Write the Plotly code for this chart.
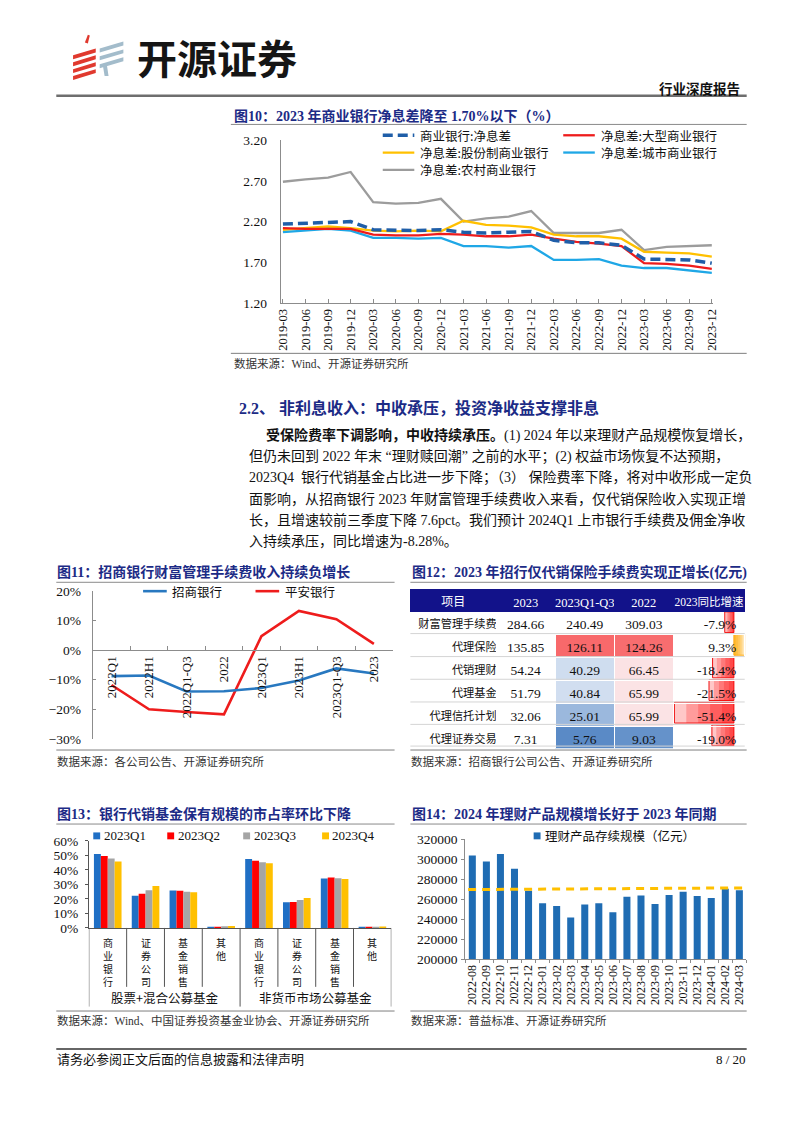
import statistics
import plotly.graph_objects as go

W, H = 802, 1133
def X(px): return px / W
def Y(py): return 1 - py / H

SERIF = "Liberation Serif, Noto Sans CJK SC, serif"
CJK = "Noto Sans CJK SC, sans-serif"
TITLE_C = "#1C2B86"
AXC = "#8C8C8C"
NAVY = "#12128A"

# ---------------- data ----------------
nim_quarters = ["2019-03", "2019-06", "2019-09", "2019-12", "2020-03", "2020-06", "2020-09", "2020-12",
                "2021-03", "2021-06", "2021-09", "2021-12", "2022-03", "2022-06", "2022-09", "2022-12",
                "2023-03", "2023-06", "2023-09", "2023-12"]
nim_all = [2.17, 2.18, 2.19, 2.20, 2.10, 2.09, 2.09, 2.10, 2.07, 2.06, 2.07, 2.08, 1.97, 1.94, 1.94, 1.91, 1.74, 1.74, 1.73, 1.69]
nim_large = [2.12, 2.11, 2.11, 2.11, 2.04, 2.03, 2.03, 2.05, 2.04, 2.02, 2.02, 2.04, 1.99, 1.95, 1.93, 1.90, 1.69, 1.68, 1.66, 1.62]
nim_joint = [2.10, 2.12, 2.14, 2.12, 2.09, 2.08, 2.09, 2.08, 2.21, 2.16, 2.15, 2.13, 2.04, 2.02, 2.02, 1.99, 1.83, 1.82, 1.81, 1.77]
nim_city = [2.07, 2.09, 2.11, 2.09, 2.00, 2.00, 1.99, 2.00, 1.90, 1.90, 1.88, 1.90, 1.73, 1.73, 1.74, 1.66, 1.63, 1.63, 1.60, 1.57]
nim_rural = [2.69, 2.72, 2.74, 2.81, 2.44, 2.42, 2.43, 2.48, 2.20, 2.24, 2.26, 2.33, 2.06, 2.06, 2.06, 2.10, 1.85, 1.89, 1.90, 1.91]
nim_names = ["商业银行:净息差", "净息差:大型商业银行", "净息差:股份制商业银行", "净息差:城市商业银行", "净息差:农村商业银行"]

fee_periods = ["2022Q1", "2022H1", "2022Q1-Q3", "2022", "2023Q1", "2023H1", "2023Q1-Q3", "2023"]
fee_cmb = [-8.8, -8.6, -14.0, -13.9, -12.8, -10.3, -6.2, -7.9]
fee_pab = [-11.8, -20.0, -20.9, -21.7, 4.7, 13.2, 10.4, 2.1]
fee_names = ["招商银行", "平安银行"]

tbl_header = ["项目", "2023", "2023Q1-Q3", "2022", "2023同比增速"]
tbl_items = ["财富管理手续费", "代理保险", "代销理财", "代理基金", "代理信托计划", "代理证券交易"]
tbl_2023 = [284.66, 135.85, 54.24, 51.79, 32.06, 7.31]
tbl_2023q3 = [240.49, 126.11, 40.29, 40.84, 25.01, 5.76]
tbl_2022 = [309.03, 124.26, 66.45, 65.99, 65.99, 9.03]
tbl_yoy = [-7.9, 9.3, -18.4, -21.5, -51.4, -19.0]

fund_types = ["股票+混合公募基金", "非货币市场公募基金"]
fund_channels = ["商业银行", "证券公司", "基金销售", "其他"]
fund_quarters = ["2023Q1", "2023Q2", "2023Q3", "2023Q4"]
share_q1 = [50.9, 22.2, 25.8, 0.7, 47.4, 17.7, 34.0, 0.6]
share_q2 = [49.6, 23.5, 25.6, 0.9, 46.2, 17.9, 34.8, 0.7]
share_q3 = [47.8, 26.0, 24.9, 1.1, 45.3, 19.2, 34.2, 0.8]
share_q4 = [45.7, 28.8, 24.5, 1.3, 44.6, 20.6, 33.7, 1.0]

wm_months = ["2022-08", "2022-09", "2022-10", "2022-11", "2022-12", "2023-01", "2023-02", "2023-03",
             "2023-04", "2023-05", "2023-06", "2023-07", "2023-08", "2023-09", "2023-10", "2023-11",
             "2023-12", "2024-01", "2024-02", "2024-03"]
wm_scale = [303600, 297600, 305200, 290400, 268400, 255900, 253300, 241800, 254600, 255900,
            247000, 262500, 263800, 255200, 264100, 267400, 263100, 261100, 270400, 269000]
wm_ref = [269600, 271300]
wm_name = "理财产品存续规模（亿元）"

# ---------------- helpers ----------------
fig = go.Figure()
shapes, ann = [], []

def text(x, y, s, size=12, color="#111", family=CJK, xanchor="left", yanchor="middle"):
    ann.append(dict(x=X(x), y=Y(y), xref="paper", yref="paper", text=s, showarrow=False,
                    font=dict(size=size, color=color, family=family),
                    xanchor=xanchor, yanchor=yanchor, borderpad=0))

def hline(x0, x1, y, color="#7F7F7F", width=1, dash=None):
    ln = dict(color=color, width=width)
    if dash:
        ln["dash"] = dash
    shapes.append(dict(type="line", xref="paper", yref="paper", x0=X(x0), x1=X(x1),
                       y0=Y(y), y1=Y(y), line=ln, layer="above"))

def rect(x0, y0, x1, y1, color):
    shapes.append(dict(type="rect", xref="paper", yref="paper", x0=X(x0), x1=X(x1),
                       y0=Y(y0), y1=Y(y1), fillcolor=color, line=dict(width=0), layer="above"))

def poly(pts, color):
    d = "M " + " L ".join(f"{X(a):.5f},{Y(b):.5f}" for a, b in pts) + " Z"
    shapes.append(dict(type="path", xref="paper", yref="paper", path=d,
                       fillcolor=color, line=dict(width=0), layer="above"))

# ---------------- page header ----------------
for i in range(4):
    yb = 44 + i * 7
    poly([(69, yb + 5), (92, yb - 2), (92, yb + 2), (69, yb + 9)], "#E0392E")
poly([(81, 36), (84, 28), (86, 29), (84, 37)], "#E0392E")
for i in range(3):
    yb = 36 + i * 8
    poly([(96, yb + 6), (120, yb - 1), (120, yb + 3), (96, yb + 10)], "#A3BCCB")
poly([(99, 58), (103, 57), (105, 70), (101, 70)], "#A3BCCB")
text(133, 51, "<b>开源证券</b>", size=40, color="#151515", family=CJK)
text(746, 82, "<b>行业深度报告</b>", size=13.5, color="#111", xanchor="right")
hline(52, 752, 90, color="#6E6E6E", width=2.5)

# ---------------- Fig 10 ----------------
text(231, 110, "<b>图10：2023 年商业银行净息差降至 1.70%以下（%）</b>", size=14, color=TITLE_C, family=SERIF)
hline(229, 752, 119, color="#8A8A8A", width=1)

styles10 = [("#1F5EA8", "10px,5px", 3.5), ("#EE1C1C", "solid", 2.3), ("#FFC000", "solid", 2.3),
            ("#1FA7E6", "solid", 2.3), ("#9C9C9C", "solid", 2.3)]
series10 = [nim_all, nim_large, nim_joint, nim_city, nim_rural]
for idx in [4, 2, 3, 1, 0]:
    c, d, w = styles10[idx]
    fig.add_trace(go.Scatter(x=nim_quarters, y=series10[idx], mode="lines", name=nim_names[idx],
                             line=dict(color=c, dash=d, width=w), xaxis="x", yaxis="y",
                             showlegend=False, hoverinfo="skip"))
leg10 = [(383, 130), (566, 130), (383, 147.5), (566, 147.5), (383, 165)]
for idx, (lx, ly) in enumerate(leg10):
    c, d, w = styles10[idx]
    hline(lx, lx + 32, ly, color=c, width=w, dash=d if d != "solid" else None)
    text(lx + 37, ly, nim_names[idx], size=12.5, color="#111")
hline(229, 752, 351, color="#7F7F7F", width=1)
text(231, 361, "数据来源：Wind、开源证券研究所", size=11.5, color="#333", family=SERIF)

# ---------------- section text ----------------
text(236, 406, "<b>2.2、 非利息收入：中收承压，投资净收益支撑非息</b>", size=16, color=TITLE_C, family=SERIF)
body = [
    (264, "<b>受保险费率下调影响，中收持续承压。</b>(1) 2024 年以来理财产品规模恢复增长，"),
    (246, "但仍未回到 2022 年末 “理财赎回潮” 之前的水平；(2) 权益市场恢复不达预期，"),
    (246, "2023Q4  银行代销基金占比进一步下降；（3） 保险费率下降，将对中收形成一定负"),
    (246, "面影响，从招商银行 2023 年财富管理手续费收入来看，仅代销保险收入实现正增"),
    (246, "长，且增速较前三季度下降 7.6pct。我们预计 2024Q1 上市银行手续费及佣金净收"),
    (246, "入持续承压，同比增速为-8.28%。"),
]
for k, (bx, s) in enumerate(body):
    text(bx, 434 + k * 21.5, s, size=14, color="#111", family=SERIF)

# ---------------- Fig 11 ----------------
text(52, 573, "<b>图11：招商银行财富管理手续费收入持续负增长</b>", size=14, color=TITLE_C, family=SERIF)
hline(52, 395, 583, color="#8A8A8A")
cols11 = ["#2878C0", "#EE1C1C"]
for vals, c, nm in [(fee_pab, cols11[1], fee_names[1]), (fee_cmb, cols11[0], fee_names[0])]:
    fig.add_trace(go.Scatter(x=fee_periods, y=vals, mode="lines", name=nm, line=dict(color=c, width=2.6),
                             xaxis="x2", yaxis="y2", showlegend=False, hoverinfo="skip"))
hline(140, 164, 592, color=cols11[0], width=2.6)
text(168, 592, fee_names[0], size=12.5)
hline(254, 278, 592, color=cols11[1], width=2.6)
text(283, 592, fee_names[1], size=12.5)
hline(52, 395, 753, color="#7F7F7F")
text(52, 765, "数据来源：各公司公告、开源证券研究所", size=11.5, color="#333", family=SERIF)
y2_dom = [Y(741.7), Y(591.7)]
y2_rng = [-30, 20]
x2_pos = y2_dom[0] + (0 - y2_rng[0]) / (y2_rng[1] - y2_rng[0]) * (y2_dom[1] - y2_dom[0])

# ---------------- Fig 12 (table) ----------------
text(412, 573, "<b>图12：2023 年招行仅代销保险手续费实现正增长(亿元)</b>", size=14, color=TITLE_C, family=SERIF)
hline(411, 752, 583, color="#8A8A8A")

heat_vals = tbl_2023q3[1:] + tbl_2022[1:]
h_min, h_max, h_mid = min(heat_vals), max(heat_vals), statistics.median(heat_vals)
LO, MID, HI = (90, 138, 198), (252, 252, 255), (248, 105, 107)
def heat(v):
    if v <= h_mid:
        t = (h_mid - v) / (h_mid - h_min); a, b = MID, LO
    else:
        t = (v - h_mid) / (h_max - h_mid); a, b = MID, HI
    return "rgb(%d,%d,%d)" % tuple(round(a[i] + t * (b[i] - a[i])) for i in range(3))

fill_q3 = ["white"] + [heat(v) for v in tbl_2023q3[1:]]
fill_22 = ["white"] + [heat(v) for v in tbl_2022[1:]]
max_len = max(len(s) for s in tbl_items)
item_cells = [("\u3000" * (max_len - len(s)) + s) if k > 0 else s for k, s in enumerate(tbl_items)]
fig.add_trace(go.Table(
    domain=dict(x=[X(411), X(750)], y=[Y(752), Y(590)]),
    columnwidth=[87, 60, 60, 60, 72],
    header=dict(values=tbl_header, fill_color=NAVY, height=22, align="center",
                line=dict(color=NAVY, width=1),
                font=dict(color="white", size=[12, 12.5, 12.5, 12.5, 11.5],
                          family=[CJK, SERIF, SERIF, SERIF, SERIF])),
    cells=dict(values=[item_cells,
                       [f"{v:.2f}" for v in tbl_2023],
                       [f"{v:.2f}" for v in tbl_2023q3],
                       [f"{v:.2f}" for v in tbl_2022],
                       [f"{v:.1f}%" for v in tbl_yoy]],
               height=23,
               fill_color=[["white"] * 6, ["white"] * 6, fill_q3, fill_22, ["rgba(0,0,0,0)"] * 6],
               align=["left", "center", "center", "center", "right"],
               line=dict(color="white", width=1),
               font=dict(color="#111", size=[11.2, 13.5, 13.5, 13.5, 13.5],
                         family=[CJK, SERIF, SERIF, SERIF, SERIF]))))
rows = list(range(len(tbl_items)))
for layer_k, frac in enumerate([1.0, 0.8, 0.6, 0.4, 0.2]):
    fig.add_trace(go.Bar(
        x=[v * frac for v in tbl_yoy], y=rows, orientation="h", xaxis="x3", yaxis="y3",
        width=0.92, offset=-0.46, showlegend=False, hoverinfo="skip",
        marker=dict(color=["rgba(255,0,0,0.22)" if v < 0 else "rgba(255,170,0,0.28)" for v in tbl_yoy],
                    line=dict(color=["#F01010" if v < 0 else "#FFB020" for v in tbl_yoy],
                              width=1 if layer_k == 0 else 0))))
for ry in [635, 658.3, 681.3, 704.3, 727, 749]:
    hline(411, 750, ry, color="#D4D4D4", width=1)
hline(411, 752, 753, color="#7F7F7F")
text(411, 765, "数据来源：招商银行公司公告、开源证券研究所", size=11.5, color="#333", family=SERIF)

# ---------------- Fig 13 ----------------
text(52, 818, "<b>图13：银行代销基金保有规模的市占率环比下降</b>", size=14, color=TITLE_C, family=SERIF)
hline(52, 395, 828, color="#8A8A8A")
fund_x = [f"{t}-{c}" for t in fund_types for c in fund_channels]
cols13 = ["#1F6FC5", "#FF0000", "#A5A5A5", "#FFC000"]
for vals, c, nm in zip([share_q1, share_q2, share_q3, share_q4], cols13, fund_quarters):
    fig.add_trace(go.Bar(x=fund_x, y=vals, name=nm, marker=dict(color=c, line=dict(width=0)),
                         xaxis="x4", yaxis="y4", showlegend=False, hoverinfo="skip"))
for k, (lx, nm) in enumerate(zip([93, 168, 245, 325], fund_quarters)):
    rect(lx - 3.5, 836.5, lx + 3.5, 843.5, cols13[k])
    text(lx + 6, 840, nm, size=13, family=SERIF)
n13 = len(fund_x)
for b in range(n13 + 1):
    outer = b % len(fund_channels) == 0
    shapes.append(dict(type="line", xref="x4", yref="paper", x0=b - 0.5, x1=b - 0.5,
                       y0=Y(933.3), y1=Y(1013 if outer else 993), line=dict(color="#555", width=1)))
for i, lab in enumerate(fund_channels * len(fund_types)):
    ann.append(dict(x=i, y=Y(939), xref="x4", yref="paper", text="<br>".join(lab), showarrow=False,
                    font=dict(size=10, family=CJK, color="#111"), xanchor="center", yanchor="top",
                    borderpad=0))
for g, nm in enumerate(fund_types):
    mid = g * len(fund_channels) + (len(fund_channels) - 1) / 2
    ann.append(dict(x=mid, y=Y(1004), xref="x4", yref="paper", text=nm, showarrow=False,
                    font=dict(size=12.5, family=CJK, color="#111"), xanchor="center", yanchor="middle"))
hline(52, 395, 1017.5, color="#7F7F7F")
text(52, 1027, "数据来源：Wind、中国证券投资基金业协会、开源证券研究所", size=11.5, color="#333", family=SERIF)

# ---------------- Fig 14 ----------------
text(412, 818, "<b>图14：2024 年理财产品规模增长好于 2023 年同期</b>", size=14, color=TITLE_C, family=SERIF)
hline(411, 752, 828, color="#8A8A8A")
fig.add_trace(go.Bar(x=wm_months, y=wm_scale, name=wm_name, width=0.5,
                     marker=dict(color="#1F6CB3", line=dict(width=0)),
                     xaxis="x5", yaxis="y5", showlegend=False, hoverinfo="skip"))
shapes.append(dict(type="line", xref="x5", yref="y5", x0=-0.3, x1=len(wm_months) - 0.7,
                   y0=wm_ref[0], y1=wm_ref[1], line=dict(color="#FFC000", width=3, dash="8px,6px"),
                   layer="above"))
rect(536, 836.5, 543, 843.5, "#1F6CB3")
text(546, 840, wm_name, size=12.5)
hline(411, 752, 1017.5, color="#7F7F7F")
text(411, 1027, "数据来源：普益标准、开源证券研究所", size=11.5, color="#333", family=SERIF)

# ---------------- footer ----------------
hline(52, 752, 1056, color="#333", width=1.5)
text(52, 1067, "请务必参阅正文后面的信息披露和法律声明", size=13, color="#111", family=SERIF)
text(752, 1067, "8 / 20", size=13, color="#111", family=SERIF, xanchor="right")

# ---------------- layout ----------------
tf = dict(family=SERIF, size=13, color="#111")
base = dict(showgrid=False, zeroline=False, linecolor=AXC, linewidth=1)
fig.update_layout(
    width=W, height=H, margin=dict(l=0, r=0, t=0, b=0),
    paper_bgcolor="white", plot_bgcolor="rgba(0,0,0,0)",
    barmode="group", bargap=0.27, bargroupgap=0, showlegend=False,
    xaxis=dict(base, domain=[X(279.5), X(718)], anchor="y", type="category", range=[-0.1, 19.06],
               showline=True, ticks="inside", ticklen=4, tickcolor=AXC, tickangle=-90,
               tickmode="array", tickvals=nim_quarters,
               tickfont=dict(family=SERIF, size=12.5, color="#111")),
    yaxis=dict(base, domain=[Y(300), Y(135)], anchor="x", range=[1.2, 3.2], tick0=1.2, dtick=0.5,
               tickformat=".2f", showline=True, ticks="", ticklabelstandoff=10,
               tickfont=dict(family=SERIF, size=13.5, color="#111")),
    xaxis2=dict(base, domain=[X(89), X(393)], anchor="free", position=x2_pos, type="category",
                range=[-0.5, 7.5], showline=True, ticks="inside", tickson="boundaries", ticklen=4,
                tickcolor=AXC, tickangle=-90, tickfont=dict(family=SERIF, size=13, color="#111")),
    yaxis2=dict(base, domain=y2_dom, anchor="x2", range=y2_rng, dtick=10, ticksuffix="%",
                showline=True, ticks="inside", ticklen=3, tickcolor=AXC, ticklabelstandoff=8,
                tickfont=dict(family=SERIF, size=13.5, color="#111")),
    xaxis3=dict(domain=[X(678), X(751)], anchor="y3", range=[-52, 10.2], visible=False, fixedrange=True),
    yaxis3=dict(domain=[Y(749.5), Y(612)], anchor="x3", range=[5.5, -0.5], visible=False, fixedrange=True),
    xaxis4=dict(base, domain=[X(85), X(391.7)], anchor="y4", type="category", range=[-0.5, 7.5],
                showline=True, ticks="", showticklabels=False, linecolor="#555"),
    yaxis4=dict(base, domain=[Y(933.3), Y(845)], anchor="x4", range=[0, 60], dtick=10, ticksuffix="%",
                showline=True, ticks="outside", ticklen=3, tickcolor="#555", linecolor="#555",
                ticklabelstandoff=4, tickfont=dict(family=SERIF, size=13.5, color="#111")),
    xaxis5=dict(base, domain=[X(466.7), X(751.7)], anchor="y5", type="category", range=[-0.5, 19.5],
                showline=True, ticks="outside", tickson="boundaries", ticklen=3, tickcolor=AXC,
                tickangle=-90, tickmode="array", tickvals=wm_months,
                tickfont=dict(family=SERIF, size=12, color="#111")),
    yaxis5=dict(base, domain=[Y(965), Y(843.3)], anchor="x5", range=[200000, 320000], dtick=20000,
                tickformat="d", showline=True, ticks="outside", ticklen=3, tickcolor=AXC,
                ticklabelstandoff=1, tickfont=dict(family=SERIF, size=13.5, color="#111")),
    shapes=shapes, annotations=ann,
)

fig.write_html("out.html", config={"displayModeBar": False},
               post_script="document.body.style.margin='0';document.body.style.overflow='hidden';")
